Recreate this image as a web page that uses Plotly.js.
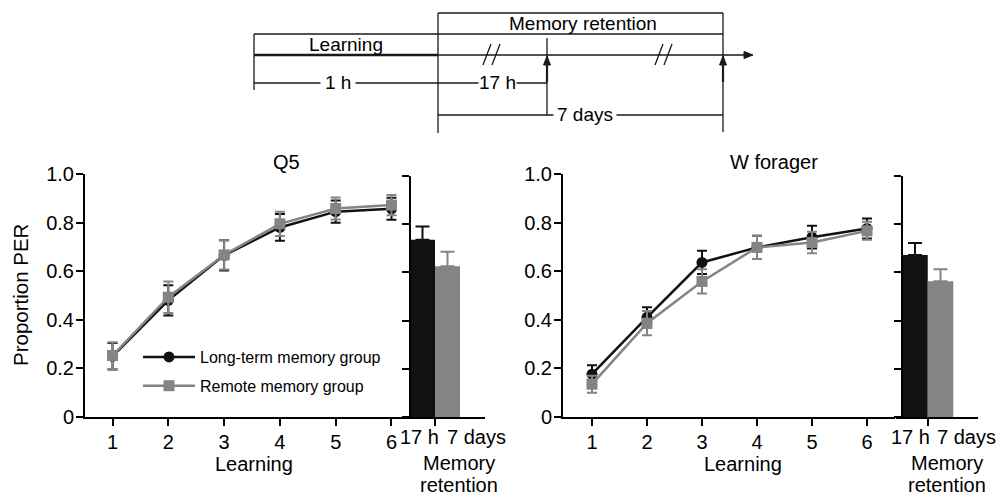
<!DOCTYPE html>
<html>
<head>
<meta charset="utf-8">
<script src="https://cdn.plot.ly/plotly-3.0.1.min.js"></script>
<style>html,body{margin:0;padding:0;background:#fff;}#chart{width:1001px;height:497px;}</style>
</head>
<body>
<div id="chart"></div>
<script>
// ---- data ----
const trials = [1, 2, 3, 4, 5, 6];
const seriesNames = ['Long-term memory group', 'Remote memory group'];

const q5Long = [0.25, 0.48, 0.665, 0.78, 0.845, 0.857];
const q5LongErr = [0.055, 0.062, 0.062, 0.055, 0.046, 0.045];
const q5Remote = [0.253, 0.493, 0.667, 0.795, 0.858, 0.872];
const q5RemoteErr = [0.055, 0.065, 0.06, 0.05, 0.045, 0.042];

const wfLong = [0.176, 0.41, 0.636, 0.698, 0.74, 0.776];
const wfLongErr = [0.037, 0.042, 0.048, 0.048, 0.047, 0.041];
const wfRemote = [0.135, 0.386, 0.558, 0.698, 0.718, 0.766];
const wfRemoteErr = [0.035, 0.05, 0.05, 0.048, 0.044, 0.037];

const retentionLabels = ['17 h', '7 days'];
const q5Retention = [0.735, 0.626];
const q5RetentionErr = [0.055, 0.06];
const wfRetention = [0.672, 0.563];
const wfRetentionErr = [0.05, 0.05];

const yTicks = [0, 0.2, 0.4, 0.6, 0.8, 1.0];
const yTickText = ['0', '0.2', '0.4', '0.6', '0.8', '1.0'];
const panelTitles = ['Q5', 'W forager'];
const xTitles = ['Learning', 'Memory', 'retention'];

// ---- styling ----
const W = 1001, H = 497;
const px = x => x / W;
const py = y => 1 - y / H;
const BLACK = '#111111';
const GREY = '#858383';
const FONT = 'Liberation Sans, Arial, sans-serif';
const TICK = 20, TITLE = 20, DIAG = 19;

function lineTrace(x, y, err, name, color, symbol, xa, ya, show) {
  return {
    type: 'scatter', mode: 'lines+markers', x: x, y: y, name: name,
    xaxis: xa, yaxis: ya, showlegend: show, legendgroup: name,
    line: {color: color, width: 2.5},
    marker: {color: color, symbol: symbol, size: 11},
    error_y: {type: 'data', array: err, visible: true, color: color, thickness: 2, width: 5}
  };
}
function barTrace(i, vals, errs, color, xa, ya) {
  return {
    type: 'bar', x: [i], y: [vals[i]], width: 1, xaxis: xa, yaxis: ya, showlegend: false,
    marker: {color: color, line: {width: 0}},
    error_y: {type: 'data', symmetric: false, array: [errs[i]], arrayminus: [0], color: color, thickness: 2, width: 7}
  };
}

const data = [
  lineTrace(trials, q5Long, q5LongErr, seriesNames[0], BLACK, 'circle', 'x', 'y', true),
  lineTrace(trials, q5Remote, q5RemoteErr, seriesNames[1], GREY, 'square', 'x', 'y', true),
  barTrace(0, q5Retention, q5RetentionErr, BLACK, 'x2', 'y2'),
  barTrace(1, q5Retention, q5RetentionErr, GREY, 'x2', 'y2'),
  lineTrace(trials, wfLong, wfLongErr, seriesNames[0], BLACK, 'circle', 'x3', 'y3', false),
  lineTrace(trials, wfRemote, wfRemoteErr, seriesNames[1], GREY, 'square', 'x3', 'y3', false),
  barTrace(0, wfRetention, wfRetentionErr, BLACK, 'x4', 'y4'),
  barTrace(1, wfRetention, wfRetentionErr, GREY, 'x4', 'y4')
];

const axBase = {
  showgrid: false, zeroline: false, showline: true, linecolor: '#000', linewidth: 2,
  ticks: 'outside', ticklen: 7, tickwidth: 2, tickcolor: '#000',
  tickfont: {family: FONT, size: TICK, color: '#000'}, fixedrange: true
};
const lineX = (dom, rng, anchor) => Object.assign({}, axBase, {domain: dom, range: rng, anchor: anchor, tickmode: 'array', tickvals: trials, ticklabelstandoff: -1});
const lineY = (dom, anchor, labels) => Object.assign({}, axBase, {domain: dom, range: [0, 1], anchor: anchor, tickmode: 'array', tickvals: yTicks, ticktext: yTickText, showticklabels: labels, ticklabelstandoff: -2});
const barX = (dom, rng, anchor) => Object.assign({}, axBase, {domain: dom, range: rng, anchor: anchor, tickmode: 'array', tickvals: [0.5], showticklabels: false});
const barY = (dom, pos) => Object.assign({}, axBase, {domain: dom, range: [0, 1], anchor: 'free', position: pos, tickmode: 'array', tickvals: yTicks, showticklabels: false});

const lineDomY = [py(417), py(174)];
const barDomY = [py(417), py(176)];

// ---- timeline diagram ----
const ink = '#1a1a1a';
function seg(x0, y0, x1, y1, w) {
  return {type: 'line', xref: 'paper', yref: 'paper', x0: px(x0), y0: py(y0), x1: px(x1), y1: py(y1), line: {color: ink, width: w || 1.3}};
}
function tri(pts) {
  const d = 'M' + pts.map(p => px(p[0]) + ',' + py(p[1])).join('L') + 'Z';
  return {type: 'path', xref: 'paper', yref: 'paper', path: d, fillcolor: ink, line: {color: ink, width: 1}};
}
const shapes = [
  seg(438, 13, 723, 13), seg(254, 34, 723, 34),
  seg(254, 34, 254, 90), seg(438, 13, 438, 133), seg(723, 13, 723, 132),
  seg(254, 55, 438, 55, 2.6), seg(438, 55, 746, 55),
  tri([[753, 55], [744, 51.5], [744, 58.5]]),
  seg(547, 38, 547, 115, 1.3), seg(547, 64, 547, 82, 2.2), seg(723, 64, 723, 82, 2.2),
  tri([[547, 56], [543.5, 65], [550.5, 65]]),
  tri([[723, 56], [719.5, 65], [726.5, 65]]),
  seg(254, 83, 438, 83), seg(438, 83, 547, 83), seg(438, 115, 723, 115),
  seg(483, 65, 491, 44), seg(492, 65, 500, 44),
  seg(655, 65, 663, 44), seg(664, 65, 672, 44)
];

function txt(s, x, y, size, extra) {
  return Object.assign({text: s, xref: 'paper', yref: 'paper', x: px(x), y: py(y), xanchor: 'center', yanchor: 'middle', showarrow: false,
    font: {family: FONT, size: size, color: '#000'}}, extra || {});
}
const annotations = [
  txt('Memory retention', 583, 24, DIAG),
  txt('Learning', 346, 44, DIAG),
  txt('1 h', 338, 83, DIAG, {bgcolor: '#fff', borderpad: 4}),
  txt('17 h', 497, 83, DIAG, {bgcolor: '#fff', borderpad: 0}),
  txt('7 days', 585, 115, DIAG, {bgcolor: '#fff', borderpad: 3}),
  txt(panelTitles[0], 286, 162, 20),
  txt(panelTitles[1], 774, 162, 20),
  txt('Proportion PER', 20, 295, 20.5, {textangle: -90}),
  txt(xTitles[0], 254, 464, TITLE),
  txt(xTitles[0], 743, 464, TITLE),
  txt(retentionLabels[0], 419, 437, TICK),
  txt(retentionLabels[1], 476, 437, TICK),
  txt(retentionLabels[0], 910, 437, TICK),
  txt(retentionLabels[1], 966, 437, TICK),
  txt(xTitles[1], 459, 463, TITLE),
  txt(xTitles[2], 459, 485, TITLE),
  txt(xTitles[1], 947, 463, TITLE),
  txt(xTitles[2], 947, 485, TITLE)
];

const layout = {
  width: W, height: H, margin: {l: 0, r: 0, t: 0, b: 0},
  paper_bgcolor: '#fff', plot_bgcolor: 'rgba(0,0,0,0)',
  font: {family: FONT, color: '#000'},
  barmode: 'overlay',
  showlegend: true,
  legend: {x: px(138), y: py(340), xanchor: 'left', yanchor: 'top', bgcolor: 'rgba(0,0,0,0)',
    font: {family: FONT, size: 16, color: '#000'}, traceorder: 'grouped', tracegroupgap: 5, itemwidth: 52},
  xaxis: lineX([px(85), px(407)], [0.507, 6.278], 'y'),
  yaxis: lineY(lineDomY, 'x', true),
  xaxis2: barX([px(403), px(485)], [-0.78, 2.5], 'y2'),
  yaxis2: barY(barDomY, px(410)),
  xaxis3: lineX([px(563), px(895)], [0.473, 6.509], 'y3'),
  yaxis3: lineY(lineDomY, 'x3', true),
  xaxis4: barX([px(896), px(978)], [-0.745, 2.47], 'y4'),
  yaxis4: barY(barDomY, px(902)),
  shapes: shapes,
  annotations: annotations
};

Plotly.newPlot('chart', data, layout, {staticPlot: true, displayModeBar: false});
</script>
</body>
</html>
